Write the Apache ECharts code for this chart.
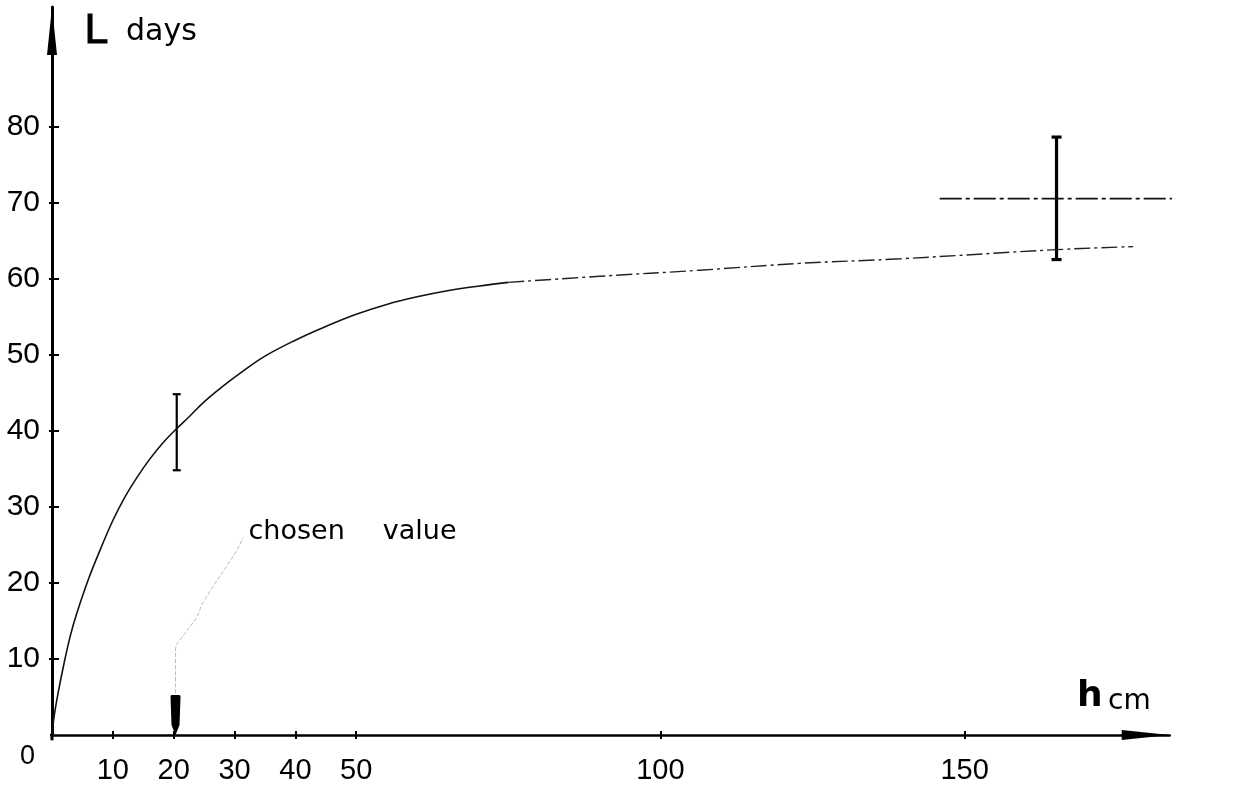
<!DOCTYPE html>
<html>
<head>
<meta charset="utf-8">
<script src="https://cdn.jsdelivr.net/npm/echarts@6/dist/echarts.min.js"></script>
<style>
html,body{margin:0;padding:0;background:#fff;}
#chart{width:1247px;height:787px;}
</style>
</head>
<body>
<div id="chart"></div>
<script>
// ---- data ----
const curveH = [0, 0.3, 1, 2, 3, 4, 6, 8, 10, 12, 14, 16, 18, 20, 22.5, 25, 28, 31, 35, 40, 45, 50, 55, 60, 65, 70, 75];
const curveL = [0, 2.2, 5.5, 9.5, 13.0, 15.8, 20.5, 24.5, 28.2, 31.3, 33.9, 36.2, 38.2, 39.9, 41.8, 43.8, 45.8, 47.6, 49.8, 51.9, 53.7, 55.3, 56.6, 57.6, 58.4, 59.0, 59.5];
const tailH = [75, 90, 106.5, 122.9, 139.4, 165.1, 177.7];
const tailL = [59.5, 60.3, 61.1, 62.0, 62.6, 63.8, 64.2];
const errH = [20.5, 165.1];
const errLow = [34.8, 62.5];
const errHigh = [44.8, 78.6];
const refH = [145.9, 194.7];
const refL = [70.5, 70.5];
const leaderH = [20.3, 20.3, 21.9, 23.8, 24.8, 30.4, 31.4];
const leaderL = [5.5, 11.2, 13.4, 15.5, 17.4, 24.3, 26.0];
const chosenH = [20.3];
const chosenL = [0];
const noteH = [32.3];
const noteL = [26.7];
const noteWords = ['chosen', 'value'];
const xTicks = [10, 20, 30, 40, 50, 100, 150];
const yTicks = [10, 20, 30, 40, 50, 60, 70, 80];
const xName = ['h', 'cm'];
const yName = ['L', 'days'];
const originLabel = '0';
const xAxisStubH = [-2, 0];
const xAxisStubL = [0, 0];
const yAxisStubH = [0, 0];
const yAxisStubL = [-0.7, 0];

const zip = (a, b) => a.map((v, i) => [v, b[i]]);

const chart = echarts.init(document.getElementById('chart'), null, {renderer: 'canvas'});
const arrowPath = 'path://M5,0L10,48L0,48Z';
const digitFont = '"Liberation Sans", Arial, sans-serif';
const wordFont = '"DejaVu Sans", sans-serif';

function errorRender(width, capHalf) {
  return function (params, api) {
    const x = api.value(0);
    const p1 = api.coord([x, api.value(1)]);
    const p2 = api.coord([x, api.value(2)]);
    const st = {stroke: '#000', lineWidth: width};
    return {
      type: 'group',
      children: [
        {type: 'line', shape: {x1: p1[0], y1: p1[1], x2: p2[0], y2: p2[1]}, style: st},
        {type: 'line', shape: {x1: p1[0] - capHalf, y1: p1[1], x2: p1[0] + capHalf, y2: p1[1]}, style: st},
        {type: 'line', shape: {x1: p2[0] - capHalf, y1: p2[1], x2: p2[0] + capHalf, y2: p2[1]}, style: st}
      ]
    };
  };
}

const option = {
  backgroundColor: '#fff',
  animation: false,
  grid: {left: 52, right: 77.3, top: 7, bottom: 52, containLabel: false, outerBoundsMode: 'none'},
  xAxis: [{
    type: 'value', min: 0, max: 183.7, position: 'bottom',
    axisLine: {show: true, lineStyle: {color: '#000', width: 2.5},
      symbol: ['none', arrowPath], symbolSize: [13, 48], symbolOffset: [0, -24]},
    axisTick: {show: true, customValues: xTicks, length: 4, lineStyle: {color: '#000', width: 2}},
    axisLabel: {show: true, customValues: xTicks, color: '#000', fontSize: 29, fontFamily: digitFont, margin: 21},
    splitLine: {show: false}
  }, {
    type: 'value', min: 0, max: 183.7, position: 'bottom',
    axisLine: {show: false},
    axisTick: {show: true, inside: true, customValues: xTicks, length: 4, lineStyle: {color: '#000', width: 2}},
    axisLabel: {show: false},
    splitLine: {show: false}
  }],
  yAxis: [{
    type: 'value', min: 0, max: 95.7, position: 'left',
    axisLine: {show: true, lineStyle: {color: '#000', width: 3},
      symbol: ['none', arrowPath], symbolSize: [13, 48], symbolOffset: [0, -24]},
    axisTick: {show: true, customValues: yTicks, length: 3, lineStyle: {color: '#000', width: 2}},
    axisLabel: {show: true, customValues: yTicks, color: '#000', fontSize: 30, fontFamily: digitFont, margin: 12},
    splitLine: {show: false}
  }, {
    type: 'value', min: 0, max: 95.7, position: 'left',
    axisLine: {show: false},
    axisTick: {show: true, inside: true, customValues: yTicks, length: 7, lineStyle: {color: '#000', width: 2}},
    axisLabel: {show: false},
    splitLine: {show: false}
  }],
  graphic: [
    {type: 'text', left: 84, top: 9, style: {text: yName[0], font: '500 43px ' + digitFont, fill: '#000', stroke: '#000', lineWidth: 1}},
    {type: 'text', left: 126, top: 17, style: {text: yName[1], font: '30px ' + wordFont, fill: '#000'}},
    {type: 'text', left: 1077, top: 679, style: {text: xName[0], font: 'bold 36px ' + wordFont, fill: '#000'}},
    {type: 'text', left: 1108, top: 688, style: {text: xName[1], font: '28px ' + wordFont, fill: '#000'}}
  ],
  series: [
    {type: 'line', data: zip(curveH, curveL), showSymbol: false, smooth: 0.4,
      lineStyle: {color: '#111', width: 1.6}, silent: true},
    {type: 'line', data: zip(tailH, tailL), showSymbol: false, smooth: 0.4,
      lineStyle: {color: '#222', width: 1.4, type: [16, 4, 3, 4]}, silent: true},
    {type: 'line', data: zip(refH, refL), showSymbol: false, clip: false,
      lineStyle: {color: '#111', width: 1.8, type: [22, 4, 4, 4]}, silent: true},
    {type: 'line', data: zip(leaderH, leaderL), showSymbol: false, smooth: 0.4,
      lineStyle: {color: '#bbb', width: 1, type: 'dashed'}, silent: true},
    {type: 'line', data: zip(xAxisStubH, xAxisStubL), showSymbol: false, clip: false,
      lineStyle: {color: '#000', width: 2.5}, silent: true},
    {type: 'line', data: zip(yAxisStubH, yAxisStubL), showSymbol: false, clip: false,
      lineStyle: {color: '#000', width: 3}, silent: true},
    {type: 'custom', data: [[errH[0], errLow[0], errHigh[0]]], renderItem: errorRender(2.2, 4), silent: true},
    {type: 'custom', data: [[errH[1], errLow[1], errHigh[1]]], renderItem: errorRender(3.2, 5), silent: true},
    {type: 'scatter', data: zip(chosenH, chosenL), symbol: 'path://M1,0L9,0Q10,0 10,2L9,30L5,40L1,30L0,2Q0,0 1,0Z',
      symbolSize: [10, 40], symbolOffset: [0, -20], itemStyle: {color: '#000', opacity: 1}, silent: true},
    {type: 'scatter', data: zip(noteH, noteL), symbolSize: 0, itemStyle: {opacity: 1},
      label: {show: true, position: 'right', distance: 0,
        formatter: '{a|' + noteWords[0] + '}{b|' + noteWords[1] + '}', color: '#000',
        rich: {
          a: {fontSize: 27, fontFamily: wordFont, color: '#000'},
          b: {fontSize: 27, fontFamily: wordFont, color: '#000', padding: [0, 0, 0, 38]}
        }}, silent: true},
    {type: 'scatter', data: [[0, 0]], symbolSize: 0, itemStyle: {opacity: 1},
      label: {show: true, position: 'inside', offset: [-24.5, 21.5], formatter: originLabel, color: '#000',
        fontSize: 27, fontFamily: digitFont}, silent: true}
  ]
};
chart.setOption(option);
</script>
</body>
</html>
